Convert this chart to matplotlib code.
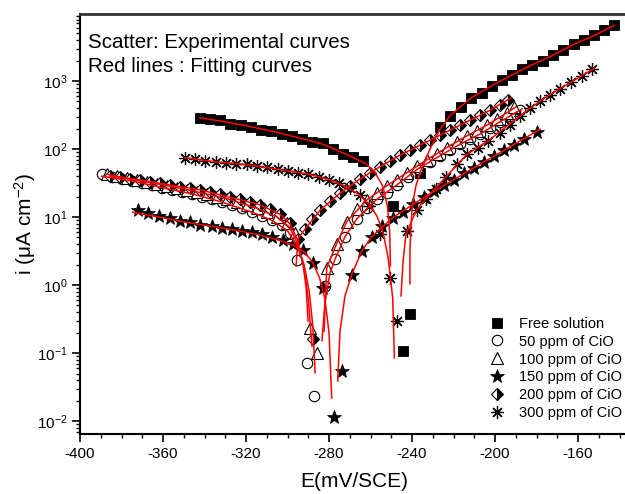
import numpy as np
import matplotlib
matplotlib.use("Agg")
import matplotlib.pyplot as plt
from matplotlib.lines import Line2D
from matplotlib.ticker import MultipleLocator, LogLocator, NullFormatter

plt.rcParams['font.family'] = ['Liberation Sans', 'DejaVu Sans']
plt.rcParams['mathtext.fontset'] = 'custom'
plt.rcParams['mathtext.rm'] = 'Liberation Sans'
plt.rcParams['mathtext.it'] = 'Liberation Sans'
plt.rcParams['mathtext.default'] = 'regular'
plt.rcParams['axes.unicode_minus'] = False

# potential E (mV/SCE) and log10 of current density i (uA cm-2)

# free solution
free_E = [-342.2, -337.3, -332.5, -327.7, -322.6, -317.8, -312.8, -308.1, -302.8, -298.0,
          -292.9, -288.1, -282.8, -278.2, -273.1, -268.3, -263.5,
          -249.2, -244.3, -241.0,
          -236.1, -226.5, -221.7, -216.4, -211.6, -206.4, -201.6, -196.8, -191.7, -186.8,
          -182.0, -177.0, -171.9, -167.1, -161.9, -157.0, -152.1, -147.3, -142.5]
free_logi = [2.46, 2.44, 2.42, 2.37, 2.35, 2.33, 2.28, 2.27, 2.22, 2.19,
             2.15, 2.11, 2.09, 2.00, 1.93, 1.88, 1.82,
             1.16, -0.97, -0.43,
             1.65, 2.32, 2.49, 2.62, 2.75, 2.83, 2.93, 3.01, 3.09, 3.17,
             3.24, 3.30, 3.38, 3.45, 3.54, 3.60, 3.67, 3.75, 3.82]
free_fit_cath_E = [-342.2, -330, -318, -306, -294, -284, -276, -268, -262, -257.8, -254, -251.8, -250.8, -250.4]
free_fit_cath_logi = [2.46, 2.40, 2.33, 2.25, 2.16, 2.08, 1.98, 1.87, 1.78, 1.65, 1.45, 1.15, 0.80, 0.28]
free_fit_an_E = [-241.0, -241.0, -240.6, -239.9, -238.1, -236.1, -231.3, -226.5, -221.7, -211.6,
                 -201.6, -191.7, -182.0, -172.0, -162.0, -152.0, -142.5]
free_fit_an_logi = [0.02, 0.50, 0.79, 1.16, 1.46, 1.65, 2.00, 2.29, 2.49, 2.75,
                    2.93, 3.09, 3.24, 3.38, 3.54, 3.67, 3.82]

# 50 ppm
c50_E = [-389.4, -384.6, -379.8, -374.9, -370.1, -365.3, -360.5, -355.7, -350.8, -346.0,
         -341.2, -336.4, -331.6, -326.7, -321.9, -317.1, -312.3, -307.5, -302.7, -298.8, -295.4,
         -290.5, -287.1,
         -281.9, -277.1, -272.3, -266.7, -261.8, -257.0, -252.2, -247.4, -241.9, -237.1,
         -231.3, -226.5, -221.7, -216.9, -212.0, -207.2, -202.4, -197.6, -192.8, -188.0]
c50_logi = [1.63, 1.59, 1.56, 1.53, 1.50, 1.47, 1.43, 1.40, 1.37, 1.34,
            1.29, 1.27, 1.22, 1.18, 1.13, 1.07, 1.02, 0.96, 0.88, 0.77, 0.37,
            -1.14, -1.63,
            -0.02, 0.38, 0.71, 0.97, 1.13, 1.26, 1.35, 1.47, 1.59, 1.71,
            1.81, 1.90, 1.99, 2.07, 2.15, 2.22, 2.31, 2.40, 2.49, 2.57]
c50_fit_cath_E = [-389.6, -375, -360, -346, -331.6, -317, -307.5, -300, -295.5, -292, -289.5, -287.8, -286.7]
c50_fit_cath_logi = [1.60, 1.53, 1.43, 1.34, 1.22, 1.07, 0.95, 0.80, 0.58, 0.30, -0.10, -0.60, -1.29]
c50_fit_an_E = [-283.4, -281.9, -279.5, -277.1, -272.3, -266.7, -257.0, -247.4, -237.1, -226.5,
                -216.9, -207.2, -197.6, -187.0]
c50_fit_an_logi = [-0.82, -0.24, 0.18, 0.38, 0.71, 0.97, 1.26, 1.47, 1.71, 1.90,
                   2.07, 2.22, 2.40, 2.59]

# 100 ppm
c100_E = [-387.0, -382.2, -377.3, -372.5, -367.7, -362.9, -358.1, -353.3, -348.4, -343.6,
          -338.8, -334.0, -329.2, -324.3, -319.5, -314.7, -309.9, -305.1, -300.2, -296.4,
          -289.2, -285.6,
          -281.1, -276.3, -271.5, -266.7, -261.8, -257.0, -252.2, -247.4, -242.6, -237.8,
          -232.9, -228.1, -223.3, -218.5, -213.7, -208.8, -204.0, -199.2, -194.4, -190.8]
c100_logi = [1.63, 1.60, 1.57, 1.54, 1.52, 1.49, 1.46, 1.43, 1.40, 1.37,
             1.34, 1.29, 1.27, 1.22, 1.18, 1.13, 1.07, 1.00, 0.91, 0.77,
             -0.63, -1.00,
             0.25, 0.61, 0.93, 1.12, 1.25, 1.35, 1.46, 1.54, 1.65, 1.75,
             1.84, 1.93, 2.02, 2.10, 2.19, 2.27, 2.35, 2.44, 2.53, 2.62]
c100_fit_cath_E = [-387, -372.5, -358, -343.6, -329.2, -314.7, -305, -299, -295, -292, -290, -288.2]
c100_fit_cath_logi = [1.63, 1.54, 1.46, 1.37, 1.27, 1.13, 1.00, 0.85, 0.60, 0.25, -0.20, -0.90]
c100_fit_an_E = [-282.4, -281.1, -276.3, -271.5, -261.8, -252.2, -242.6, -232.9, -223.3, -213.7,
                 -204.0, -194.4, -189.9]
c100_fit_an_logi = [-0.68, 0.25, 0.61, 0.93, 1.25, 1.46, 1.65, 1.84, 2.02, 2.19,
                    2.35, 2.53, 2.62]

# 150 ppm
c150_E = [-371.9, -367.1, -361.8, -356.6, -351.8, -347.0, -342.2, -336.5, -331.7, -326.9,
          -322.1, -317.3, -312.4, -307.6, -302.0, -297.2, -292.7, -287.6, -282.7,
          -277.4, -273.9,
          -269.1, -264.2, -259.4, -254.6, -249.3, -244.5, -239.4, -234.2, -229.4, -224.6,
          -219.8, -214.9, -210.1, -205.3, -200.5, -195.7, -190.8, -186.0, -179.9]
c150_logi = [1.10, 1.06, 1.02, 0.99, 0.94, 0.92, 0.88, 0.87, 0.84, 0.82,
             0.80, 0.78, 0.75, 0.71, 0.66, 0.60, 0.51, 0.33, -0.04,
             -1.94, -1.27,
             0.15, 0.50, 0.71, 0.87, 0.99, 1.08, 1.19, 1.29, 1.38, 1.47,
             1.55, 1.64, 1.72, 1.81, 1.89, 1.98, 2.06, 2.15, 2.25]
c150_fit_cath_E = [-374.6, -362, -350, -338, -326, -314, -304, -297, -292, -288, -284.5, -282, -280, -278.7]
c150_fit_cath_logi = [1.07, 1.00, 0.93, 0.87, 0.81, 0.74, 0.66, 0.58, 0.49, 0.34, 0.10, -0.20, -0.70, -1.66]
c150_fit_an_E = [-275.8, -274.7, -272.3, -269.1, -264.2, -259.4, -249.3, -234.2, -214.9, -195.7, -178.3]
c150_fit_an_logi = [-1.41, -0.68, -0.16, 0.15, 0.50, 0.71, 0.99, 1.29, 1.64, 1.98, 2.29]

# 200 ppm
c200_E = [-385.5, -380.7, -375.9, -371.1, -366.3, -361.4, -356.6, -351.8, -347.0, -342.2,
          -337.3, -332.5, -327.7, -322.9, -318.1, -313.3, -308.4, -303.6, -298.8,
          -287.9,
          -294.9, -291.6, -288.2, -284.3, -279.5, -274.7, -269.9, -265.1, -260.2, -255.4,
          -250.6, -245.8, -241.0, -236.1, -231.3, -226.5, -221.7, -216.9, -212.0, -207.2,
          -202.4, -197.6, -193.7]
c200_logi = [1.60, 1.59, 1.56, 1.54, 1.52, 1.50, 1.47, 1.44, 1.43, 1.40,
             1.37, 1.34, 1.29, 1.27, 1.22, 1.18, 1.12, 1.04, 0.91,
             -0.80,
             0.68, 0.82, 0.97, 1.10, 1.24, 1.35, 1.46, 1.56, 1.65, 1.74,
             1.82, 1.91, 1.99, 2.06, 2.13, 2.21, 2.28, 2.35, 2.43, 2.50,
             2.57, 2.65, 2.72]
c200_fit_cath_E = [-385.5, -371, -356.6, -342.2, -327.7, -313.3, -303.6, -298.8, -295, -292.5, -291, -290.1]
c200_fit_cath_logi = [1.60, 1.545, 1.47, 1.40, 1.29, 1.18, 1.04, 0.90, 0.65, 0.30, -0.05, -0.53]
c200_fit_an_E = [-295.9, -294.9, -291.6, -284.3, -274.7, -265.1, -255.4, -245.8, -231.3, -216.9, -202.4, -192.3]
c200_fit_an_logi = [0.28, 0.68, 0.82, 1.10, 1.35, 1.56, 1.74, 1.91, 2.13, 2.35, 2.57, 2.75]

# 300 ppm
c300_E = [-349.4, -344.6, -339.8, -334.5, -329.6, -324.8, -319.7, -314.8, -309.7, -304.4,
          -299.6, -294.8, -290.0, -284.7, -279.9, -275.0, -269.9, -265.1, -260.8, -255.4, -250.6,
          -247.4,
          -242.6, -237.7, -233.3, -228.4, -223.6, -218.5, -213.6, -208.0, -203.2, -197.6,
          -192.8, -188.0, -183.1, -178.3, -173.5, -168.7, -163.5, -158.2, -153.4]
c300_logi = [1.87, 1.85, 1.83, 1.81, 1.80, 1.78, 1.78, 1.75, 1.73, 1.70,
             1.68, 1.65, 1.63, 1.59, 1.55, 1.50, 1.42, 1.32, 1.16, 0.75, 0.11,
             -0.53,
             0.79, 1.11, 1.27, 1.41, 1.59, 1.78, 1.92, 2.02, 2.12, 2.24,
             2.36, 2.49, 2.60, 2.71, 2.80, 2.88, 2.98, 3.07, 3.17]
c300_fit_cath_E = [-349.4, -334.5, -319.7, -304.4, -290, -280, -272, -266, -261, -257, -254, -251.5, -249.3, -248.5]
c300_fit_cath_logi = [1.87, 1.81, 1.77, 1.70, 1.63, 1.55, 1.45, 1.34, 1.20, 1.02, 0.78, 0.40, -0.19, -1.07]
c300_fit_an_E = [-245.3, -244.3, -242.9, -237.7, -233.3, -223.6, -213.6, -203.3, -192.8, -183.1,
                 -173.5, -163.5, -152.0]
c300_fit_an_logi = [-0.16, 0.35, 0.75, 1.11, 1.27, 1.59, 1.92, 2.12, 2.37, 2.60,
                    2.80, 2.98, 3.19]

labels = ['Free solution', '50 ppm of CiO', '100 ppm of CiO',
          '150 ppm of CiO', '200 ppm of CiO', '300 ppm of CiO']

fig = plt.figure(figsize=(6.25, 4.94), dpi=100)
ax = fig.add_axes([0.128, 0.1215, 0.8765, 0.8502])

styles = [
    dict(marker='s', ms=7, mfc='black', mec='black', mew=0.6),
    dict(marker='o', ms=7.5, mfc='white', mec='black', mew=0.8),
    dict(marker='^', ms=8, mfc='white', mec='black', mew=0.8),
    dict(marker='*', ms=10, mfc='black', mec='black', mew=0.5),
    dict(marker='D', ms=6.5, mfc='black', mfcalt='white', fillstyle='right', mec='black', mew=0.8),
    dict(marker=(8, 2, 0), ms=9, mfc='none', mec='black', mew=0.9),
]

series = [
    (free_E, free_logi, free_fit_cath_E, free_fit_cath_logi, free_fit_an_E, free_fit_an_logi),
    (c50_E, c50_logi, c50_fit_cath_E, c50_fit_cath_logi, c50_fit_an_E, c50_fit_an_logi),
    (c100_E, c100_logi, c100_fit_cath_E, c100_fit_cath_logi, c100_fit_an_E, c100_fit_an_logi),
    (c150_E, c150_logi, c150_fit_cath_E, c150_fit_cath_logi, c150_fit_an_E, c150_fit_an_logi),
    (c200_E, c200_logi, c200_fit_cath_E, c200_fit_cath_logi, c200_fit_an_E, c200_fit_an_logi),
    (c300_E, c300_logi, c300_fit_cath_E, c300_fit_cath_logi, c300_fit_an_E, c300_fit_an_logi),
]

handles = []
for (E, li, fcE, fcl, faE, fal), st, lab in zip(series, styles, labels):
    ax.plot(E, 10 ** np.array(li), linestyle='none', zorder=2, **st)
    handles.append(Line2D([], [], linestyle='none', label=lab, **st))

for (E, li, fcE, fcl, faE, fal) in series:
    ax.plot(fcE, 10 ** np.array(fcl), color='red', lw=1.1, zorder=3)
    ax.plot(faE, 10 ** np.array(fal), color='red', lw=1.1, zorder=3)

ax.set_yscale('log')
ax.set_xlim(-400, -136)
ax.set_ylim(10 ** -2.19, 10 ** 3.985)

ax.xaxis.set_major_locator(MultipleLocator(40))
ax.xaxis.set_minor_locator(MultipleLocator(10))
ax.yaxis.set_major_locator(LogLocator(base=10, numticks=10))
ax.yaxis.set_minor_locator(LogLocator(base=10, subs=np.arange(2, 10), numticks=20))
ax.yaxis.set_minor_formatter(NullFormatter())

ax.tick_params(which='major', direction='out', length=6, width=1.2, labelsize=11)
ax.tick_params(which='minor', direction='out', length=3, width=1.0)
ax.tick_params(axis='y', pad=3)

ax.spines['right'].set_visible(False)
for s in ['left', 'bottom']:
    ax.spines[s].set_linewidth(1.5)
ax.spines['top'].set_linewidth(2)
ax.spines['top'].set_color('#333333')

ax.set_xlabel('E(mV/SCE)', fontsize=15, labelpad=7.5)
ax.set_ylabel('i (μA cm$^{-2}$)', fontsize=15, labelpad=-1)

fig.text(88 / 625, 1 - 42 / 494, 'Scatter: Experimental curves', fontsize=14.8, va='center')
fig.text(88 / 625, 1 - 66 / 494, 'Red lines : Fitting curves', fontsize=14.8, va='center')

ax.legend(handles=handles, loc='upper left', bbox_to_anchor=(0.784, 0.359),
          bbox_transform=fig.transFigure, frameon=False, fontsize=10.5,
          handlelength=1.0, handletextpad=1.0, labelspacing=0.27,
          borderpad=0, borderaxespad=0)

fig.savefig('out.png', dpi=100)
